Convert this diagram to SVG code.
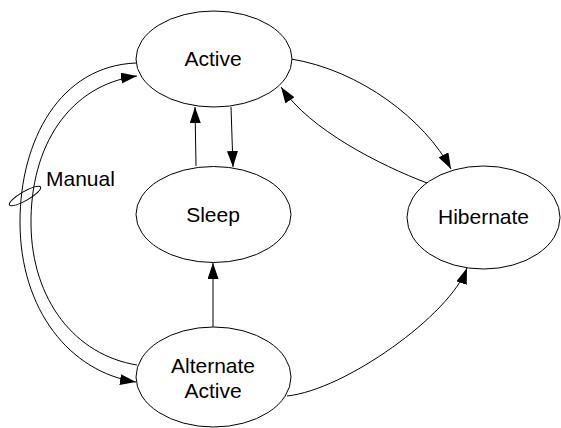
<svg xmlns="http://www.w3.org/2000/svg" width="561" height="428" viewBox="0 0 561 428">
<style>
.node{fill:#fff;stroke:#000;stroke-width:1}
.lbl{font-family:"Liberation Sans",Arial,sans-serif;font-size:21px;fill:#000;text-anchor:middle}
.edge{fill:none;stroke:#000;stroke-width:1}
</style>
<defs>
<marker id="arr" markerUnits="userSpaceOnUse" markerWidth="17" markerHeight="12" refX="16" refY="5.5" orient="auto">
<path d="M0,0 L16,5.5 L0,11 z" fill="#000"/>
</marker>
</defs>
<rect width="561" height="428" fill="#fff"/>
<g id="connectors">
<path class="edge" d="M231,107 L233,167" marker-end="url(#arr)"/>
<path class="edge" d="M196,166 L195,107" marker-end="url(#arr)"/>
<path class="edge" d="M213,327 L213,263" marker-end="url(#arr)"/>
<path class="edge" d="M291,59 C360,70 425,120 451,169" marker-end="url(#arr)"/>
<path class="edge" d="M427,183 C380,165 310,130 281,87" marker-end="url(#arr)"/>
<path class="edge" d="M287,396 C345,390 450,315 467,268" marker-end="url(#arr)"/>
<path class="edge" d="M136,63 C60,66 20,140 20,222 C20,310 70,372 136,382" marker-end="url(#arr)"/>
<path class="edge" d="M137,365 C75,355 32,300 31,225 C30,145 70,85 137,76" marker-end="url(#arr)"/>
<ellipse class="edge" cx="25" cy="196" rx="18" ry="4.5" transform="rotate(-30 25 196)"/>
<text class="lbl" x="46" y="186" style="text-anchor:start">Manual</text>
</g>
<g id="active">
<ellipse class="node" cx="214" cy="59" rx="78" ry="48"/>
<text class="lbl" x="213" y="66">Active</text>
</g>
<g id="sleep">
<ellipse class="node" cx="213.5" cy="214.5" rx="77.5" ry="48"/>
<text class="lbl" x="213" y="222">Sleep</text>
</g>
<g id="hibernate">
<ellipse class="node" cx="483.5" cy="217.5" rx="76.5" ry="51.5"/>
<text class="lbl" x="483.5" y="224">Hibernate</text>
</g>
<g id="alternate-active">
<ellipse class="node" cx="213.5" cy="377" rx="77.5" ry="50"/>
<text class="lbl" x="213" y="373">Alternate</text>
<text class="lbl" x="213" y="398">Active</text>
</g>
</svg>
